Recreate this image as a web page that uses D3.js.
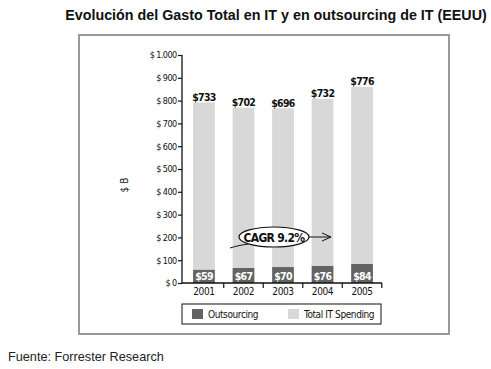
<!DOCTYPE html>
<html>
<head>
<meta charset="utf-8">
<script src="https://cdn.jsdelivr.net/npm/d3@7"></script>
<style>
  html, body { margin: 0; padding: 0; background: #fff; }
  svg { display: block; }
</style>
</head>
<body>
<div class="Canvas"></div>
<script>
let years = ['2001', '2002', '2003', '2004', '2005'];
let outsourcing = [59, 67, 70, 76, 84];
let totalIT = [733, 702, 696, 732, 776];
let yTicks = [0, 100, 200, 300, 400, 500, 600, 700, 800, 900, 1000];
let legendLabels = ['Outsourcing', 'Total IT Spending'];

let width = 491;
let height = 369;
let darkColor = '#636363';
let lightColor = '#d8d8d8';
let labelFont = '"Liberation Sans Narrow", "DejaVu Sans Condensed", sans-serif';

let svg = d3.select('.Canvas').append('svg').attr('width', width).attr('height', height);

// title + source
svg.append('text')
    .attr('x', 276).attr('y', 20)
    .attr('text-anchor', 'middle')
    .attr('font-family', 'Liberation Sans, Arial, sans-serif')
    .attr('font-weight', 'bold')
    .attr('font-size', '14.3px')
    .attr('fill', '#111')
    .text('Evolución del Gasto Total en IT y en outsourcing de IT (EEUU)');

svg.append('text')
    .attr('x', 8).attr('y', 361)
    .attr('font-family', 'Liberation Sans, Arial, sans-serif')
    .attr('font-size', '12.7px')
    .attr('fill', '#222')
    .text('Fuente: Forrester Research');

// outer frame
svg.append('rect')
    .attr('x', 79).attr('y', 35)
    .attr('width', 370).attr('height', 299)
    .attr('fill', 'none')
    .attr('stroke', '#999')
    .attr('stroke-width', 2);

let x = d3.scaleBand().domain(years).range([184, 382]).paddingInner(0.45).paddingOuter(0.23);
let y = d3.scaleLinear().domain([0, 1000]).range([283, 55]);

let rows = years.map((yr, i) => ({ year: yr, outsourcing: outsourcing[i], total: totalIT[i] }));
let stacked = d3.stack().keys(['outsourcing', 'total'])(rows);
let colors = { outsourcing: darkColor, total: lightColor };

let g = svg.append('g');
stacked.forEach((layer) => {
    g.append('g')
        .selectAll('rect')
        .data(layer)
        .enter()
        .append('rect')
        .attr('x', (d) => x(d.data.year))
        .attr('y', (d) => y(d[1]))
        .attr('width', x.bandwidth())
        .attr('height', (d) => y(d[0]) - y(d[1]))
        .attr('fill', colors[layer.key]);
});

// value labels
g.selectAll('text.tot')
    .data(stacked[1])
    .enter()
    .append('text')
    .attr('class', 'tot')
    .attr('x', (d) => x(d.data.year) + x.bandwidth() / 2)
    .attr('y', (d) => y(d[1]) - 1.5)
    .attr('text-anchor', 'middle')
    .attr('font-family', labelFont)
    .attr('font-weight', 'bold')
    .attr('font-size', '10.5px')
    .attr('letter-spacing', '-0.7px')
    .attr('fill', '#111')
    .text((d) => '$' + d.data.total);

g.selectAll('text.out')
    .data(stacked[0])
    .enter()
    .append('text')
    .attr('class', 'out')
    .attr('x', (d) => x(d.data.year) + x.bandwidth() / 2)
    .attr('y', y(0) - 3)
    .attr('text-anchor', 'middle')
    .attr('font-family', labelFont)
    .attr('font-weight', 'bold')
    .attr('font-size', '10.5px')
    .attr('letter-spacing', '-0.7px')
    .attr('fill', '#fff')
    .text((d) => '$' + d.data.outsourcing);

// y axis
let yAxis = svg.append('g')
    .attr('transform', 'translate(182,0)')
    .call(d3.axisLeft(y).tickValues(yTicks).tickSize(4).tickPadding(1.5)
        .tickFormat((d) => '$ ' + (d >= 1000 ? Math.floor(d / 1000) + '.' + String(d % 1000).padStart(3, '0') : d)));
yAxis.select('.domain').attr('d', `M0,${y(0)}V${y(1000)}`).attr('stroke', '#111').attr('stroke-width', 1.3);
yAxis.selectAll('.tick line').attr('stroke', '#111').attr('stroke-width', 1.2);
yAxis.selectAll('.tick text')
    .attr('font-family', labelFont)
    .attr('font-size', '9px')
    .attr('letter-spacing', '-0.6px')
    .attr('fill', '#111');

// x axis with ticks between categories
let xAxis = svg.append('g').attr('transform', `translate(0,${y(0)})`);
xAxis.append('line')
    .attr('x1', 182).attr('x2', 382)
    .attr('stroke', '#111').attr('stroke-width', 1.3);
let step = x.step();
xAxis.selectAll('line.sep')
    .data(years)
    .enter()
    .append('line')
    .attr('class', 'sep')
    .attr('x1', (d) => x(d) + x.bandwidth() / 2 + step / 2)
    .attr('x2', (d) => x(d) + x.bandwidth() / 2 + step / 2)
    .attr('y1', 0).attr('y2', 5)
    .attr('stroke', '#111').attr('stroke-width', 1.2);
xAxis.selectAll('text')
    .data(years)
    .enter()
    .append('text')
    .attr('x', (d) => x(d) + x.bandwidth() / 2)
    .attr('y', 11.5)
    .attr('text-anchor', 'middle')
    .attr('font-family', labelFont)
    .attr('font-size', '10px')
    .attr('letter-spacing', '-0.4px')
    .attr('fill', '#111')
    .text((d) => d);

// axis title
svg.append('text')
    .attr('transform', 'translate(128,185) rotate(-90)')
    .attr('text-anchor', 'middle')
    .attr('font-family', labelFont)
    .attr('font-size', '10px')
    .attr('fill', '#222')
    .text('$ B');

// CAGR callout
let cg = svg.append('g');
cg.append('path')
    .attr('d', 'M230,248 C236,246 242,245 248,244')
    .attr('fill', 'none').attr('stroke', '#111').attr('stroke-width', 1);
cg.append('ellipse')
    .attr('cx', 274).attr('cy', 237).attr('rx', 35).attr('ry', 10)
    .attr('fill', '#fff').attr('stroke', '#111').attr('stroke-width', 1.2);
cg.append('text')
    .attr('x', 274).attr('y', 241.5)
    .attr('text-anchor', 'middle')
    .attr('font-family', labelFont)
    .attr('font-weight', 'bold')
    .attr('font-size', '12px')
    .attr('letter-spacing', '-0.7px')
    .attr('fill', '#111')
    .text('CAGR 9.2%');
cg.append('path')
    .attr('d', 'M309,237 L331,237 M322,233 L331,237 L322,241')
    .attr('fill', 'none').attr('stroke', '#111').attr('stroke-width', 1);

// legend
let lg = svg.append('g');
lg.append('rect')
    .attr('x', 182).attr('y', 304).attr('width', 199).attr('height', 20)
    .attr('fill', 'none').attr('stroke', '#111').attr('stroke-width', 1);
let legendX = [192, 288];
let legendColors = [darkColor, lightColor];
legendLabels.forEach((lbl, i) => {
    lg.append('rect')
        .attr('x', legendX[i]).attr('y', 309).attr('width', 11).attr('height', 10)
        .attr('fill', legendColors[i]);
    lg.append('text')
        .attr('x', legendX[i] + 16).attr('y', 318)
        .attr('font-family', labelFont)
        .attr('font-size', '10px')
        .attr('letter-spacing', '-0.4px')
        .attr('fill', '#111')
        .text(lbl);
});
</script>
</body>
</html>
